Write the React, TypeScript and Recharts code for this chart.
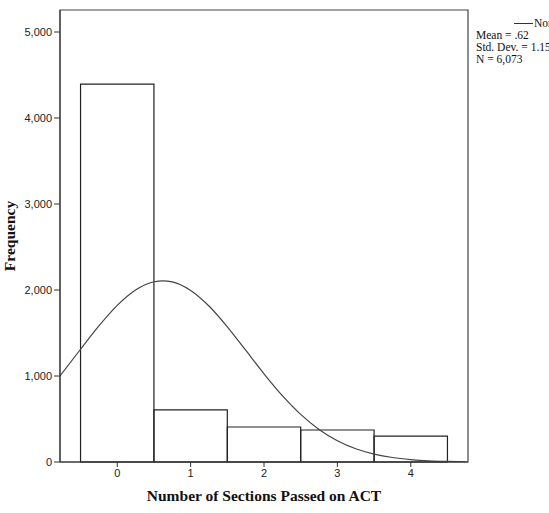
import { ComposedChart, Line, XAxis, YAxis, ReferenceArea } from "recharts";

// histogram bins (center of each bin) and counts
const binCenters = [0, 1, 2, 3, 4];
const binCounts = [4395, 605, 407, 372, 302];

// normal curve drawn over the histogram
const curveX = [-0.78, -0.5, -0.25, 0, 0.25, 0.5, 0.62, 0.75, 1, 1.25, 1.5, 1.75, 2, 2.25, 2.5, 2.75, 3, 3.25, 3.5, 3.75, 4, 4.25, 4.5, 4.75];
const curveY = [1000, 1311, 1583, 1822, 2001, 2096, 2107, 2094, 1995, 1814, 1572, 1300, 1026, 772, 554, 379, 248, 154, 92, 52, 28, 14, 7, 3];

const xTicks = [0, 1, 2, 3, 4];
const yTicks = [0, 1000, 2000, 3000, 4000, 5000];

const meanLabel = ".62";
const sdLabel = "1.15";
const nLabel = "6,073";

const X_DOMAIN: [number, number] = [-0.78, 4.78];
const Y_DOMAIN: [number, number] = [0, 5256];

const curveData = curveX.map((x, i) => ({ x, y: curveY[i] }));

const ink = "#333";
const tickFont = { fontSize: 11, fill: "#222", fontFamily: "'Liberation Sans', Arial, sans-serif" };
const titleFont = { fontSize: 15.5, fontWeight: 700, fill: "#111", fontFamily: "'Liberation Serif', 'Times New Roman', serif" };

export default function App() {
  return (
    <div style={{ position: "absolute", left: 0, top: 0, width: 549, height: 513, overflow: "hidden", background: "#fff" }}>
      <ComposedChart width={549} height={513} data={curveData} margin={{ top: 10, right: 81, bottom: 11, left: 0 }}>
        <XAxis
          dataKey="x"
          type="number"
          domain={X_DOMAIN}
          ticks={xTicks}
          allowDataOverflow
          height={40}
          tickSize={5}
          stroke={ink}
          tick={tickFont}
          label={{ value: "Number of Sections Passed on ACT", position: "insideBottom", offset: 1, style: titleFont }}
        />
        <YAxis
          type="number"
          domain={Y_DOMAIN}
          ticks={yTicks}
          allowDataOverflow
          width={60}
          tickSize={6}
          stroke={ink}
          tick={tickFont}
          tickFormatter={(v) => Number(v).toLocaleString("en-US")}
          label={{ value: "Frequency", angle: -90, position: "insideLeft", offset: 9, style: { ...titleFont, textAnchor: "middle" } }}
        />
        {/* plot frame */}
        <ReferenceArea
          x1={X_DOMAIN[0]}
          x2={X_DOMAIN[1]}
          y1={Y_DOMAIN[0]}
          y2={Y_DOMAIN[1]}
          fill="#fff"
          fillOpacity={0}
          stroke="#444"
          strokeWidth={1.2}
          strokeOpacity={1}
        />
        {binCenters.map((c, i) => (
          <ReferenceArea
            key={c}
            x1={c - 0.5}
            x2={c + 0.5}
            y1={0}
            y2={binCounts[i]}
            fill="#fff"
            fillOpacity={0}
            stroke="#222"
            strokeWidth={1.2}
            strokeOpacity={1}
          />
        ))}
        <Line
          type="monotone"
          dataKey="y"
          stroke="#444"
          strokeWidth={1.2}
          dot={false}
          activeDot={false}
          isAnimationActive={false}
        />
      </ComposedChart>
      <div
        style={{
          position: "absolute",
          left: 476,
          top: 17,
          fontFamily: "'Liberation Serif', 'Times New Roman', serif",
          fontSize: 11.5,
          lineHeight: "12px",
          color: "#111",
          whiteSpace: "nowrap",
        }}
      >
        <div style={{ display: "flex", alignItems: "center", marginLeft: 38 }}>
          <span style={{ display: "inline-block", width: 19, borderTop: "1px solid #333", marginRight: 1 }} />
          <span>Normal</span>
        </div>
        <div>Mean = {meanLabel}</div>
        <div>Std. Dev. = {sdLabel}</div>
        <div>N = {nLabel}</div>
      </div>
    </div>
  );
}
